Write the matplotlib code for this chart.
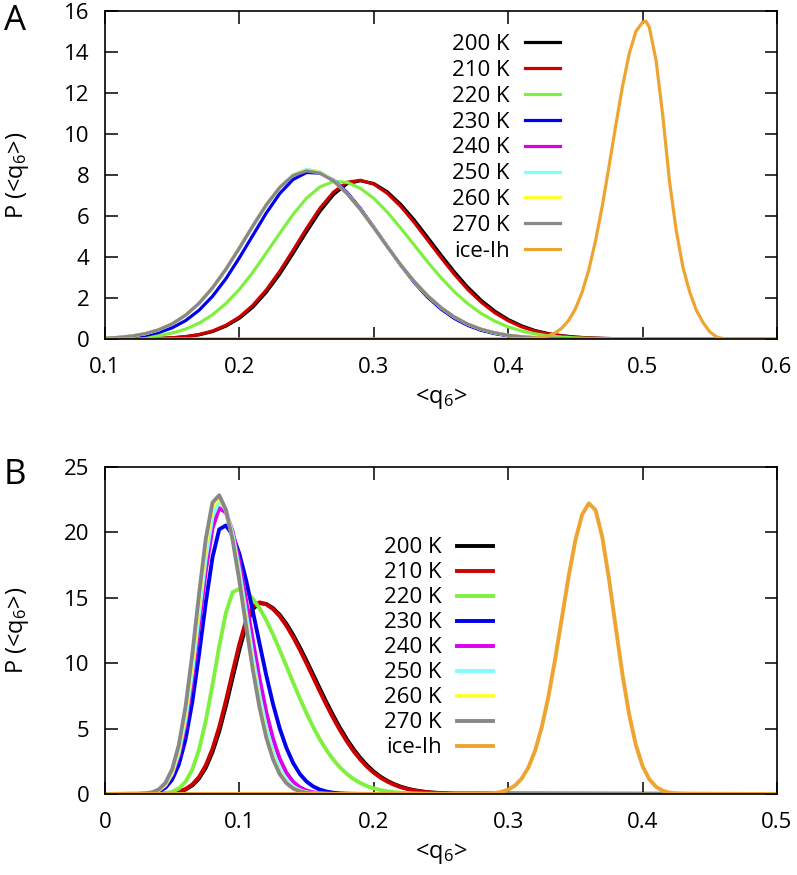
import matplotlib
matplotlib.use("Agg")
import matplotlib.pyplot as plt
import numpy as np

plt.rcParams['font.family'] = ['Open Sans', 'DejaVu Sans']
plt.rcParams['mathtext.fontset'] = 'custom'
plt.rcParams['mathtext.rm'] = 'Open Sans'
plt.rcParams['mathtext.it'] = 'Open Sans:italic'

labels = ['200 K', '210 K', '220 K', '230 K', '240 K', '250 K', '260 K', '270 K', 'ice-Ih']
colors = ['#000000', '#cc0000', '#80f040', '#0000ee', '#dd00ee', '#80ffff', '#ffff30', '#888888', '#eea430']

# ---- panel A: liquid curves on <q6> = 0.10 ... 0.50 (step 0.01), then 0.60
xa_liq = np.append(np.round(np.arange(0.10, 0.5001, 0.01), 3), 0.60)
a_200 = [0.001, 0.002, 0.005, 0.012, 0.026, 0.054, 0.107, 0.204, 0.36, 0.63, 1.01, 1.55, 2.28, 3.16, 4.18,
         5.23, 6.23, 7.04, 7.57, 7.72, 7.58, 7.18, 6.57, 5.81, 4.96, 4.10, 3.27, 2.52, 1.88, 1.36, 0.95,
         0.64, 0.41, 0.26, 0.158, 0.093, 0.052, 0.029, 0.016, 0.008, 0.004, 0]
a_210 = [0.001, 0.002, 0.006, 0.013, 0.028, 0.059, 0.116, 0.219, 0.39, 0.67, 1.07, 1.64, 2.39, 3.30, 4.33,
         5.39, 6.38, 7.16, 7.64, 7.74, 7.55, 7.11, 6.47, 5.69, 4.83, 3.97, 3.15, 2.41, 1.79, 1.28, 0.89,
         0.59, 0.38, 0.24, 0.143, 0.084, 0.047, 0.026, 0.014, 0.007, 0.003, 0]
a_220 = [0.012, 0.024, 0.048, 0.091, 0.166, 0.289, 0.482, 0.77, 1.18, 1.73, 2.42, 3.25, 4.19, 5.15, 6.08,
         6.87, 7.42, 7.68, 7.64, 7.35, 6.86, 6.19, 5.41, 4.59, 3.76, 2.99, 2.30, 1.72, 1.24, 0.87, 0.59,
         0.39, 0.25, 0.15, 0.09, 0.052, 0.029, 0.016, 0.008, 0.004, 0.002, 0]
a_230 = [0.021, 0.045, 0.09, 0.173, 0.315, 0.545, 0.896, 1.40, 2.08, 2.94, 3.96, 5.05, 6.14, 7.09, 7.78,
         8.12, 8.09, 7.75, 7.16, 6.37, 5.46, 4.52, 3.60, 2.76, 2.04, 1.46, 1.00, 0.66, 0.42, 0.26, 0.154,
         0.088, 0.048, 0.025, 0.012, 0.006, 0.003, 0.001, 0, 0, 0, 0]
a_240 = [0.037, 0.075, 0.142, 0.258, 0.446, 0.736, 1.159, 1.740, 2.492, 3.404, 4.434, 5.512, 6.535, 7.388, 8.00,
         8.25, 8.13, 7.72, 7.10, 6.32, 5.43, 4.51, 3.62, 2.81, 2.11, 1.53, 1.07, 0.72, 0.47, 0.30, 0.18,
         0.107, 0.061, 0.034, 0.018, 0.009, 0.004, 0.002, 0.001, 0, 0, 0]
a_250 = [0.037, 0.075, 0.142, 0.258, 0.446, 0.736, 1.159, 1.740, 2.492, 3.404, 4.434, 5.512, 6.535, 7.388, 8.02,
         8.28, 8.15, 7.73, 7.10, 6.32, 5.43, 4.51, 3.62, 2.81, 2.11, 1.53, 1.07, 0.72, 0.47, 0.30, 0.18,
         0.107, 0.061, 0.034, 0.018, 0.009, 0.004, 0.002, 0.001, 0, 0, 0]
a_260 = [0.037, 0.075, 0.142, 0.258, 0.446, 0.736, 1.159, 1.740, 2.492, 3.404, 4.434, 5.512, 6.535, 7.388, 8.00,
         8.24, 8.12, 7.72, 7.10, 6.32, 5.43, 4.51, 3.62, 2.81, 2.11, 1.53, 1.07, 0.72, 0.47, 0.30, 0.18,
         0.107, 0.061, 0.034, 0.018, 0.009, 0.004, 0.002, 0.001, 0, 0, 0]
a_270 = [0.037, 0.075, 0.142, 0.258, 0.446, 0.736, 1.159, 1.740, 2.492, 3.404, 4.434, 5.512, 6.535, 7.388, 7.97,
         8.20, 8.09, 7.71, 7.10, 6.32, 5.43, 4.51, 3.62, 2.81, 2.11, 1.53, 1.07, 0.72, 0.47, 0.30, 0.18,
         0.107, 0.061, 0.034, 0.018, 0.009, 0.004, 0.002, 0.001, 0, 0, 0]
xa_ice = [0.10, 0.40, 0.41, 0.42, 0.425, 0.43, 0.435, 0.44, 0.445, 0.45, 0.455, 0.46, 0.465, 0.47, 0.475,
          0.48, 0.485, 0.49, 0.495, 0.50, 0.5025, 0.505, 0.51, 0.515, 0.52, 0.525, 0.53, 0.535, 0.54, 0.545,
          0.55, 0.555, 0.56, 0.57, 0.60]
a_ice = [0, 0.002, 0.01, 0.04, 0.08, 0.16, 0.30, 0.53, 0.91, 1.47, 2.28, 3.38, 4.79, 6.49, 8.41,
         10.4, 12.3, 13.9, 15.0, 15.45, 15.5, 15.2, 13.6, 10.9, 7.7, 5.3, 3.5, 2.3, 1.4, 0.8,
         0.35, 0.1, 0.02, 0, 0]

# ---- panel B: liquid curves on <q6> = 0.025 ... 0.260 (step 0.005); zero elsewhere
xb_liq = np.round(np.arange(0.025, 0.2601, 0.005), 4)
b_200 = [0.001, 0.002, 0.005, 0.014, 0.034, 0.078, 0.17, 0.34, 0.66, 1.19, 2.01, 3.21, 4.79, 6.74, 8.90,
         11.04, 12.89, 14.15, 14.59, 14.53, 14.21, 13.70, 13.01, 12.16, 11.21, 10.18, 9.11, 8.03, 6.97,
         5.97, 5.03, 4.18, 3.42, 2.76, 2.19, 1.71, 1.32, 1.01, 0.76, 0.56, 0.41, 0.29, 0.21, 0.14, 0.10,
         0.07, 0.044, 0.028]
b_210 = [0.001, 0.002, 0.006, 0.016, 0.038, 0.088, 0.19, 0.38, 0.73, 1.30, 2.19, 3.46, 5.12, 7.14, 9.34,
         11.47, 13.25, 14.37, 14.65, 14.50, 14.14, 13.59, 12.86, 11.99, 11.02, 9.97, 8.89, 7.81, 6.76,
         5.77, 4.85, 4.01, 3.27, 2.63, 2.08, 1.62, 1.25, 0.95, 0.71, 0.52, 0.38, 0.27, 0.19, 0.13, 0.09,
         0.06, 0.04, 0.025]
b_220 = [0.001, 0.002, 0.007, 0.022, 0.065, 0.17, 0.42, 0.94, 1.87, 3.40, 5.59, 8.34, 11.29, 13.86, 15.43,
         15.68, 15.43, 14.94, 14.20, 13.28, 12.20, 11.01, 9.77, 8.52, 7.31, 6.16, 5.10, 4.15, 3.32, 2.61,
         2.01, 1.53, 1.14, 0.84, 0.60, 0.43, 0.30, 0.20, 0.14, 0.09, 0.06, 0.04, 0.025, 0.015, 0.009,
         0.005, 0.003, 0.001]
b_230 = [0.007, 0.022, 0.069, 0.19, 0.48, 1.10, 2.26, 4.20, 7.05, 10.68, 14.62, 18.09, 20.23, 20.53, 19.81,
         18.36, 16.35, 13.99, 11.50, 9.08, 6.89, 5.02, 3.52, 2.37, 1.53, 0.95, 0.57, 0.33, 0.18, 0.095,
         0.048, 0.023, 0.011, 0.005, 0.002, 0.001]
b_240 = [0.009, 0.032, 0.098, 0.268, 0.66, 1.48, 2.96, 5.36, 8.74, 12.86, 17.03, 20.32, 21.86, 21.52, 20.06,
         17.72, 14.82, 11.75, 8.82, 6.27, 4.23, 2.70, 1.63, 0.93, 0.51, 0.26, 0.127, 0.058, 0.025, 0.01,
         0.004, 0.002, 0.001]
b_250 = [0.009, 0.032, 0.10, 0.28, 0.70, 1.58, 3.19, 5.79, 9.43, 13.76, 18.04, 21.22, 22.40, 21.73, 19.84,
         17.05, 13.79, 10.49, 7.52, 5.07, 3.22, 1.92, 1.08, 0.57, 0.28, 0.13, 0.058, 0.024, 0.009, 0.003]
b_260 = [0.010, 0.035, 0.109, 0.31, 0.77, 1.74, 3.50, 6.31, 10.18, 14.68, 18.96, 21.91, 22.67, 21.70, 19.52,
         16.48, 13.08, 9.75, 6.83, 4.49, 2.78, 1.61, 0.88, 0.45, 0.22, 0.10, 0.043, 0.017, 0.006, 0]
b_270 = [0.011, 0.040, 0.123, 0.342, 0.85, 1.89, 3.77, 6.71, 10.70, 15.27, 19.50, 22.28, 22.84, 21.72, 19.41,
         16.30, 12.85, 9.52, 6.62, 4.33, 2.66, 1.53, 0.83, 0.42, 0.20, 0.09, 0.04, 0.015, 0.005, 0]
xb_ice = [0.0, 0.28, 0.285, 0.29, 0.295, 0.30, 0.305, 0.31, 0.315, 0.32, 0.325, 0.33, 0.335, 0.34, 0.345,
          0.35, 0.355, 0.36, 0.365, 0.37, 0.375, 0.38, 0.385, 0.39, 0.395, 0.40, 0.405, 0.41, 0.415,
          0.42, 0.425, 0.43, 0.435, 0.44, 0.5]
b_ice = [0, 0.013, 0.032, 0.073, 0.16, 0.33, 0.64, 1.17, 2.02, 3.31, 5.12, 7.48, 10.34, 13.50, 16.65,
         19.40, 21.36, 22.22, 21.71, 19.64, 16.44, 12.75, 9.15, 6.08, 3.74, 2.13, 1.12, 0.55, 0.25,
         0.10, 0.04, 0.015, 0.005, 0, 0]


def on_b_grid(vals):
    # curves are zero outside the listed points; pad to the full 0 ... 0.5 range
    y = np.zeros(len(xb_liq))
    y[:len(vals)] = vals
    return np.concatenate([[0.0], xb_liq, [0.5]]), np.concatenate([[0.0], y, [0.0]])


fig = plt.figure(figsize=(7.97, 8.75), dpi=100)
axA = fig.add_axes([0.1317, 0.6126, 0.8432, 0.3749])
axB = fig.add_axes([0.1317, 0.0926, 0.8432, 0.3737])

series_a = [a_200, a_210, a_220, a_230, a_240, a_250, a_260, a_270]
series_b = [b_200, b_210, b_220, b_230, b_240, b_250, b_260, b_270]

for y, lab, c in zip(series_a, labels, colors):
    axA.plot(xa_liq, y, color=c, lw=2.3, label=lab, solid_joinstyle='round')
axA.plot(xa_ice, a_ice, color=colors[-1], lw=2.3, label=labels[-1], solid_joinstyle='round')

for y, lab, c in zip(series_b, labels, colors):
    xx, yy = on_b_grid(y)
    axB.plot(xx, yy, color=c, lw=2.8, label=lab, solid_joinstyle='round')
axB.plot(xb_ice, b_ice, color=colors[-1], lw=2.8, label=labels[-1], solid_joinstyle='round')

axA.set_xlim(0.1, 0.6)
axA.set_ylim(0, 16)
axA.set_xticks([0.1, 0.2, 0.3, 0.4, 0.5, 0.6])
axA.set_xticklabels(['0.1', '0.2', '0.3', '0.4', '0.5', '0.6'])
axA.set_yticks(range(0, 17, 2))

axB.set_xlim(0, 0.5)
axB.set_ylim(0, 25)
axB.set_xticks([0, 0.1, 0.2, 0.3, 0.4, 0.5])
axB.set_xticklabels(['0', '0.1', '0.2', '0.3', '0.4', '0.5'])
axB.set_yticks(range(0, 26, 5))

for ax in (axA, axB):
    ax.tick_params(direction='in', top=True, right=True, length=9, width=1.1, labelsize=16)
    ax.tick_params(axis='x', pad=13)
    ax.tick_params(axis='y', pad=11)
    for s in ax.spines.values():
        s.set_linewidth(1.2)
    ax.set_xlabel('<q$_6$>', fontsize=17, labelpad=6)
    ax.set_ylabel('P (<q$_6$>)', fontsize=17, labelpad=24)

axA.legend(loc='upper right', bbox_to_anchor=(0.677, 0.93), frameon=False, markerfirst=False,
           fontsize=16, handlelength=1.55, handletextpad=0.7, labelspacing=0.22,
           borderpad=0, borderaxespad=0)
axB.legend(loc='upper right', bbox_to_anchor=(0.577, 0.785), frameon=False, markerfirst=False,
           fontsize=16, handlelength=1.6, handletextpad=0.7, labelspacing=0.18,
           borderpad=0, borderaxespad=0)

fig.text(0.005, 0.995, 'A', fontsize=25, va='top', ha='left')
fig.text(0.005, 0.476, 'B', fontsize=25, va='top', ha='left')

fig.savefig('out.png', dpi=100)
